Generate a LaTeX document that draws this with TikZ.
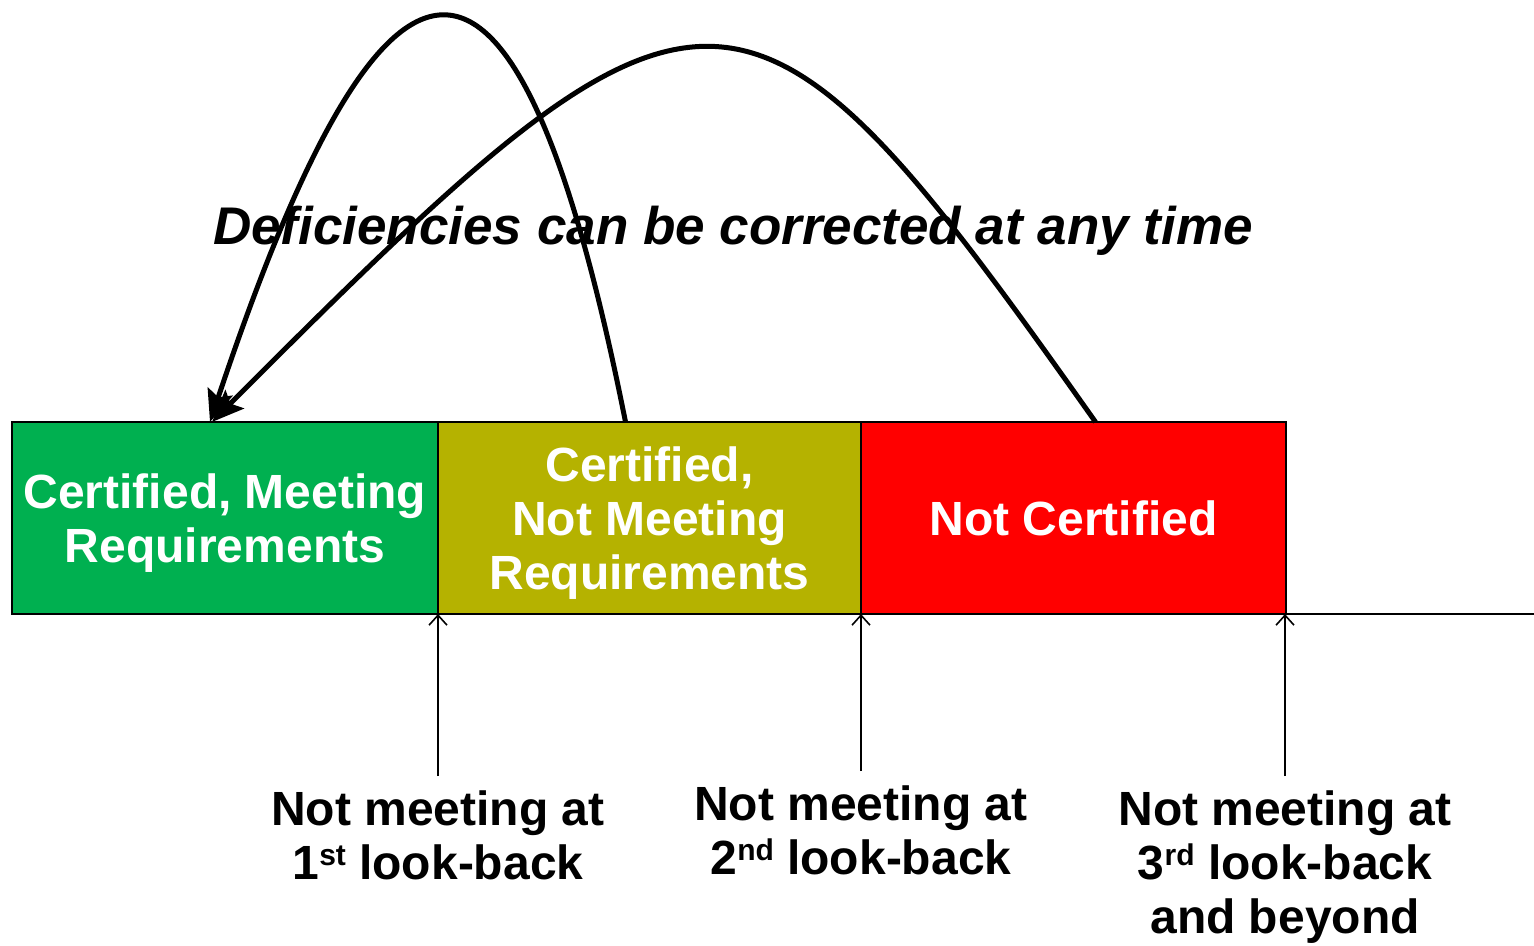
\documentclass[tikz,border=0pt]{standalone}
\usepackage{fontspec}
\setmainfont{Liberation Sans}
\usetikzlibrary{arrows.meta}

\definecolor{certgreen}{HTML}{00B050}
\definecolor{certolive}{HTML}{B5B200}
\definecolor{certred}{HTML}{FF0000}

\def\BoxFont {\fontsize{24pt}{27pt}\selectfont\bfseries}
\def\Ord#1{\raisebox{7pt}{\fontsize{15pt}{15pt}\selectfont #1}}

\tikzset{
  state_box/.style={draw=black, line width=1pt, minimum height=96pt, outer sep=0pt,
      text=white, align=center, inner sep=0pt, font=\BoxFont},
  look_label/.style={anchor=north, align=center, inner sep=7pt, font=\BoxFont},
  look_arrow/.style={-{Straight Barb[length=5pt,width=9pt]}, line width=0.8pt},
  fix_arrow/.style={-{Stealth[length=16pt,width=13pt,inset=3pt]}, line width=2.5pt}
}

\begin{document}
\begin{tikzpicture}[x=0.5pt,y=-0.5pt]
        \useasboundingbox (0,0) rectangle (1534,946);
        \node[state_box, fill=certgreen, minimum width=213pt] (cert_ok) at (225,518) {Certified, Meeting\\\smash{Requirements}};
        \node[state_box, fill=certolive, minimum width=211.5pt] (cert_not) at (649.5,518) {Certified,\\Not Meeting\\\smash{Requirements}};
        \node[state_box, fill=certred, minimum width=212.5pt] (not_cert) at (1073.5,518) {Not Certified};
        \coordinate (line_end) at (1534,614);
        \draw[line width=0.8pt] (not_cert.south east) -- (line_end);

        \node[look_label] (look_one) at (438,776) {Not meeting at\\1\Ord{st} look-back};
        \node[look_label] (look_two) at (861,771) {Not meeting at\\2\Ord{nd} look-back};
        \node[look_label] (look_three) at (1285,776) {Not meeting at\\3\Ord{rd} look-back\\and beyond};
        \foreach \lbl in {look_one,look_two,look_three} {
            \draw[look_arrow] (\lbl.north) -- (\lbl.north |- cert_ok.south);
          }

        \node[anchor=base, font=\fontsize{26.5pt}{30pt}\selectfont\bfseries\itshape] (title) at (733,245) {Deficiencies can be corrected at any time};
        \draw[fix_arrow] ([xshift=-12pt]cert_not.north) .. controls (518,-117) and (390,-117) .. ([xshift=-7.5pt]cert_ok.north);
        \draw[fix_arrow] ([xshift=11pt]not_cert.north) .. controls (744,-76) and (708,-76) .. ([xshift=-6.5pt]cert_ok.north);
      \end{tikzpicture}
\end{document}
